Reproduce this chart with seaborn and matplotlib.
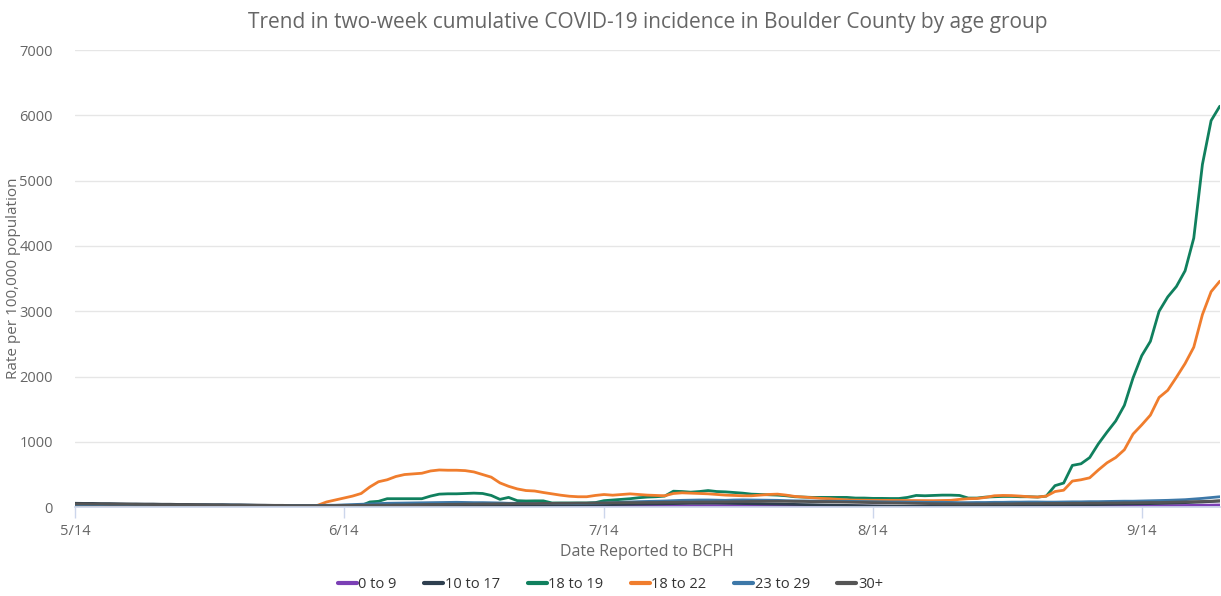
import pandas as pd
import seaborn as sns
import matplotlib.pyplot as plt
import matplotlib.dates as mdates

# daily values, 5/14 -> 9/23
start_date = '2020-05-14'
end_date = '2020-09-23'

age_groups = ['0 to 9', '10 to 17', '18 to 19', '18 to 22', '23 to 29', '30+']
colors = ['#7b3fb5', '#2e3f4f', '#10805e', '#f07d2d', '#3d78a8', '#555555']

rate_0_9 = [
    15, 15, 12, 12, 12, 10, 10, 10, 8, 8,
    8, 8, 6, 6, 5, 5, 5, 5, 5, 5,
    5, 4, 4, 4, 4, 5, 5, 5, 5, 5,
    5, 6, 6, 6, 8, 8, 8, 8, 10, 10,
    10, 10, 10, 12, 12, 12, 12, 12, 12, 10,
    10, 10, 10, 10, 12, 12, 12, 14, 14, 15,
    15, 16, 16, 18, 18, 18, 20, 20, 20, 22,
    22, 22, 22, 24, 24, 24, 24, 25, 25, 25,
    25, 25, 25, 24, 24, 22, 22, 20, 20, 18,
    18, 16, 15, 14, 12, 12, 10, 10, 10, 10,
    10, 10, 10, 10, 10, 10, 12, 12, 12, 12,
    14, 14, 14, 15, 15, 15, 16, 16, 18, 18,
    18, 20, 20, 22, 22, 24, 24, 25, 26, 28,
    30, 32, 34,
]
rate_10_17 = [
    60, 58, 58, 55, 55, 52, 50, 50, 48, 48,
    45, 45, 42, 42, 40, 40, 38, 38, 35, 35,
    32, 30, 30, 28, 28, 25, 25, 22, 22, 20,
    20, 18, 18, 15, 15, 15, 15, 18, 18, 20,
    20, 22, 22, 25, 25, 25, 22, 20, 20, 18,
    18, 20, 20, 22, 25, 25, 28, 30, 30, 32,
    35, 38, 40, 42, 45, 45, 48, 50, 52, 55,
    58, 60, 60, 62, 62, 60, 58, 55, 55, 52,
    50, 48, 45, 42, 40, 38, 35, 32, 30, 28,
    25, 22, 20, 18, 15, 15, 12, 12, 12, 15,
    15, 18, 18, 20, 20, 22, 22, 25, 25, 28,
    30, 30, 32, 32, 35, 35, 38, 38, 40, 42,
    45, 48, 50, 52, 55, 58, 60, 65, 70, 75,
    80, 88, 95,
]
rate_18_19 = [
    15, 15, 12, 12, 10, 10, 10, 8, 8, 8,
    8, 8, 8, 10, 10, 10, 10, 8, 8, 8,
    8, 8, 8, 10, 10, 10, 12, 12, 12, 15,
    15, 15, 18, 25, 80, 90, 130, 130, 130, 130,
    130, 170, 200, 205, 205, 210, 215, 210, 180, 120,
    150, 100, 95, 97, 97, 65, 65, 65, 65, 65,
    70, 100, 110, 120, 130, 145, 155, 160, 170, 245,
    240, 230, 240, 255, 240, 235, 225, 215, 200, 195,
    190, 185, 175, 160, 155, 150, 150, 150, 150, 150,
    140, 140, 135, 135, 133, 133, 150, 180, 175, 180,
    185, 185, 180, 140, 140, 155, 160, 165, 165, 160,
    160, 155, 170, 330, 370, 640, 665, 760, 970, 1150,
    1320, 1560, 1980, 2320, 2540, 3000, 3220, 3380, 3620, 4120,
    5250, 5920, 6140,
]
rate_18_22 = [
    30, 28, 25, 25, 22, 20, 20, 18, 15, 15,
    12, 10, 10, 8, 8, 8, 10, 10, 12, 12,
    10, 10, 8, 8, 8, 10, 10, 10, 30, 80,
    110, 140, 170, 210, 310, 390, 420, 470, 500, 510,
    520, 555, 570, 566, 566, 560, 540, 500, 460, 372,
    320, 280, 255, 248, 225, 205, 184, 168, 160, 160,
    180, 194, 184, 194, 204, 194, 185, 180, 175, 210,
    220, 215, 210, 205, 195, 185, 180, 175, 175, 185,
    195, 200, 185, 165, 155, 145, 135, 130, 120, 112,
    108, 106, 105, 105, 104, 103, 102, 100, 100, 100,
    102, 105, 120, 130, 133, 150, 175, 180, 178, 170,
    160, 155, 170, 240, 260, 400, 420, 450, 570, 680,
    760, 880, 1120, 1260, 1410, 1680, 1790, 1990, 2200, 2450,
    2950, 3300, 3460,
]
rate_23_29 = [
    40, 40, 38, 38, 35, 35, 35, 30, 30, 30,
    30, 28, 28, 28, 30, 30, 30, 32, 32, 30,
    30, 28, 28, 25, 25, 25, 25, 25, 28, 30,
    30, 35, 40, 45, 50, 55, 60, 62, 65, 65,
    68, 70, 72, 75, 75, 72, 70, 70, 68, 65,
    60, 60, 58, 55, 55, 55, 55, 55, 55, 58,
    60, 65, 70, 75, 80, 85, 88, 90, 95, 100,
    105, 108, 110, 110, 108, 105, 110, 112, 110, 108,
    105, 105, 100, 98, 95, 95, 92, 92, 90, 90,
    88, 85, 85, 82, 80, 80, 78, 78, 75, 75,
    75, 72, 70, 70, 72, 72, 75, 75, 78, 78,
    80, 80, 78, 78, 80, 82, 82, 85, 85, 88,
    90, 92, 92, 95, 98, 100, 105, 110, 115, 125,
    135, 148, 160,
]
rate_30_plus = [
    50, 50, 48, 48, 45, 45, 45, 42, 42, 40,
    40, 40, 38, 38, 38, 35, 35, 35, 32, 32,
    30, 30, 28, 28, 28, 25, 25, 25, 25, 25,
    25, 28, 28, 30, 30, 32, 32, 35, 35, 38,
    40, 42, 42, 45, 45, 48, 48, 50, 50, 52,
    52, 55, 55, 55, 58, 58, 60, 60, 62, 62,
    65, 65, 68, 68, 70, 70, 72, 72, 75, 75,
    78, 78, 80, 80, 82, 82, 85, 85, 88, 88,
    90, 90, 90, 88, 88, 85, 85, 82, 80, 78,
    75, 72, 70, 68, 65, 62, 60, 58, 55, 55,
    52, 52, 50, 50, 50, 50, 52, 52, 52, 55,
    55, 55, 58, 58, 58, 60, 60, 62, 62, 65,
    65, 68, 68, 70, 72, 72, 75, 78, 80, 85,
    88, 92, 98,
]

dates = pd.date_range(start_date, end_date, freq='D')
series = [rate_0_9, rate_10_17, rate_18_19, rate_18_22, rate_23_29, rate_30_plus]
frames = []
for name, vals in zip(age_groups, series):
    frames.append(pd.DataFrame({'date': dates, 'rate': vals, 'group': name}))
df = pd.concat(frames, ignore_index=True)

sns.set_theme(style='white')
plt.rcParams['font.family'] = ['Open Sans', 'DejaVu Sans']
text_col = '#666666'

fig, ax = plt.subplots(figsize=(12.21, 5.96), dpi=100)
fig.subplots_adjust(left=0.0614, right=0.999, top=0.916, bottom=0.149)

sns.lineplot(data=df, x='date', y='rate', hue='group', hue_order=age_groups,
             palette=colors, linewidth=2.0, ax=ax, legend=True)

ax.set_ylim(0, 7000)
ax.set_yticks(range(0, 7001, 1000))
ax.set_xlim(dates[0], dates[-1])
ax.xaxis.set_major_locator(mdates.MonthLocator(bymonthday=14))
ax.xaxis.set_major_formatter(mdates.DateFormatter('%-m/%d'))
ax.yaxis.grid(True, color='#e6e6e6', linewidth=1)
ax.xaxis.grid(False)
for side in ['top', 'right', 'left']:
    ax.spines[side].set_visible(False)
ax.spines['bottom'].set_color('#ccd6eb')
ax.tick_params(axis='x', which='major', bottom=True, length=8, width=1,
               color='#ccd6eb', labelsize=10.5, labelcolor=text_col, pad=4)
ax.tick_params(axis='y', left=False, labelsize=10.5, labelcolor=text_col, pad=10)

ax.set_title('Trend in two-week cumulative COVID-19 incidence in Boulder County by age group',
             fontsize=15, color=text_col, pad=16)
ax.set_xlabel('Date Reported to BCPH', fontsize=11.5, color=text_col, labelpad=4)
ax.set_ylabel('Rate per 100,000 population', fontsize=11, color=text_col)
ax.yaxis.set_label_coords(-0.047, 0.5)

handles, labels = ax.get_legend_handles_labels()
ax.get_legend().remove()
leg = fig.legend(handles, labels, loc='lower center', bbox_to_anchor=(0.5, -0.015), ncol=6,
                 frameon=False, fontsize=10.5, handlelength=1.3, handletextpad=0.1,
                 columnspacing=1.9, labelcolor='#333333')
for line in leg.get_lines():
    line.set_linewidth(3)

plt.savefig('out.png', dpi=100)
